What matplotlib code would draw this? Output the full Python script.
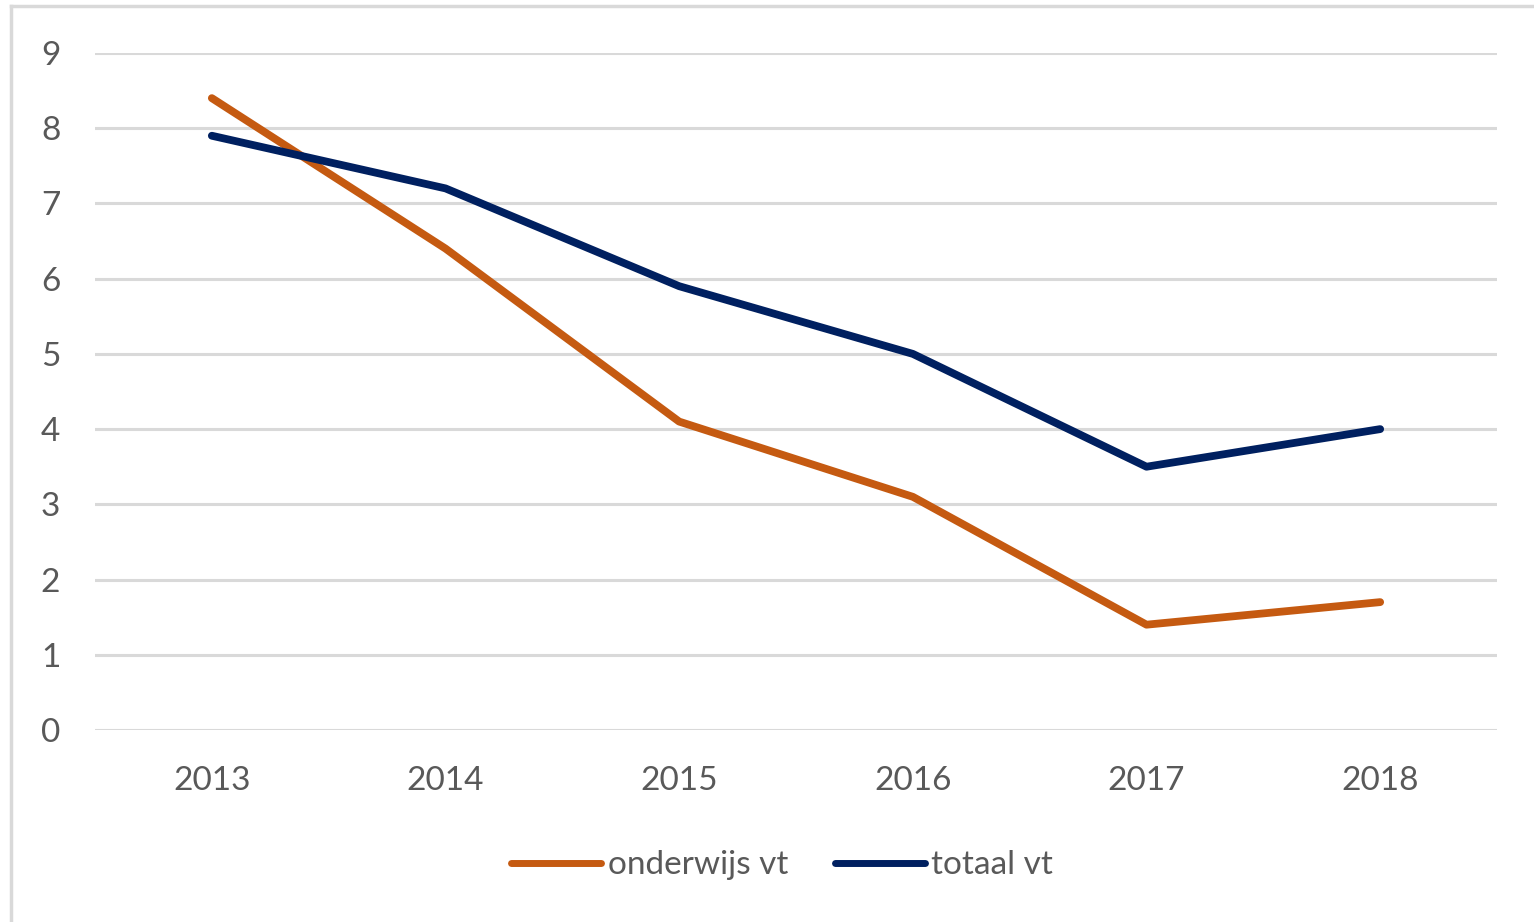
import matplotlib.pyplot as plt
from matplotlib.lines import Line2D

plt.rcParams['font.family'] = ['Lato', 'DejaVu Sans']

years = ['2013', '2014', '2015', '2016', '2017', '2018']
onderwijs_vt = [8.4, 6.4, 4.1, 3.1, 1.4, 1.7]
totaal_vt = [7.9, 7.2, 5.9, 5.0, 3.5, 4.0]
yticks = [0, 1, 2, 3, 4, 5, 6, 7, 8, 9]

orange = '#C55A11'
navy = '#002060'
grey_text = '#595959'

fig = plt.figure(figsize=(15.34, 9.22), dpi=100)
ax = fig.add_axes([95 / 1534, 1 - 730 / 922, (1497 - 95) / 1534, (730 - 53) / 922])

x = range(len(years))
ax.plot(x, onderwijs_vt, color=orange, lw=5.6, solid_capstyle='round', solid_joinstyle='round',
        label='onderwijs vt', zorder=3)
ax.plot(x, totaal_vt, color=navy, lw=5.6, solid_capstyle='round', solid_joinstyle='round',
        label='totaal vt', zorder=3)

ax.set_xlim(-0.5, len(years) - 0.5)
ax.set_ylim(0, 9)
ax.set_yticks(yticks)
ax.set_xticks(list(x))
ax.set_xticklabels(years)
ax.grid(axis='y', color='#D9D9D9', lw=2.2)
ax.set_axisbelow(True)
for s in ax.spines.values():
    s.set_visible(False)
ax.tick_params(length=0, labelsize=24, labelcolor=grey_text)
ax.tick_params(axis='y', pad=25)
ax.tick_params(axis='x', pad=26)

leg = fig.legend(loc='center', bbox_to_anchor=(782 / 1534, 1 - 865 / 922), ncol=2, frameon=False,
                 fontsize=24, labelcolor=grey_text, handlelength=2.7, handletextpad=0.2,
                 columnspacing=1.4, handleheight=0.5)
for h in leg.get_lines():
    h.set_linewidth(5)
    h.set_solid_capstyle('round')

# light grey frame on left and top like the original screenshot
fig.add_artist(Line2D([11 / 1534, 11 / 1534], [0, 1 - 6 / 922], color='#D9D9D9', lw=2.5,
                      transform=fig.transFigure))
fig.add_artist(Line2D([11 / 1534, 1], [1 - 6 / 922, 1 - 6 / 922], color='#D9D9D9', lw=2.5,
                      transform=fig.transFigure))

fig.savefig('out.png', dpi=100, facecolor='white')
